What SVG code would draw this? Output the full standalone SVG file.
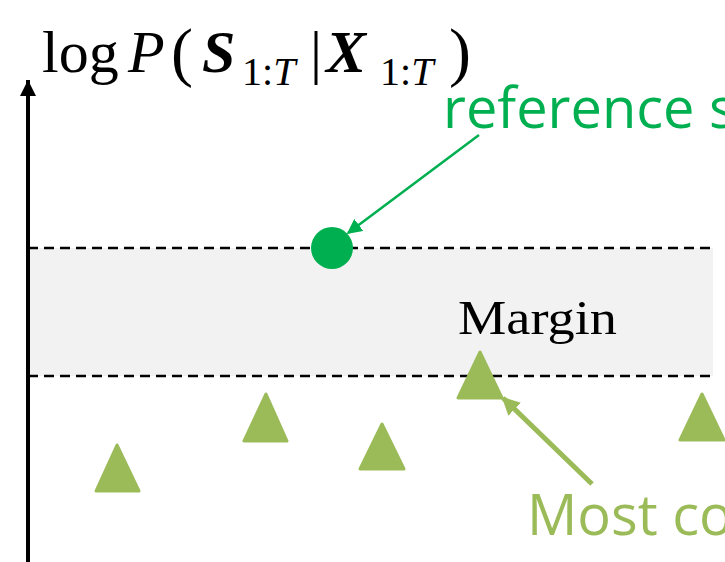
<svg xmlns="http://www.w3.org/2000/svg" width="725" height="562" viewBox="0 0 725 562">
<style>
.ser{font-family:"Liberation Serif","DejaVu Serif",serif;fill:#000}
.it{font-style:italic}
.bi{font-style:italic;font-weight:bold}
.dash{stroke:#000;stroke-width:2.5;stroke-dasharray:10 6;fill:none}
.tri{fill:#9bbb59;stroke:#9bbb59;stroke-width:3;stroke-linejoin:round}
.lbl{font-family:"Open Sans","Liberation Sans",sans-serif;font-size:56px}
</style>
<defs>
<marker id="ah" viewBox="0 0 10 10" refX="10" refY="5" markerWidth="4" markerHeight="4" orient="auto" markerUnits="strokeWidth"><path d="M0,0 L10,5 L0,10 z" fill="#000"/></marker>
<marker id="ahg" viewBox="0 0 10 10" refX="9" refY="5" markerWidth="6" markerHeight="6" orient="auto" markerUnits="strokeWidth"><path d="M0,0 L10,5 L0,10 z" fill="#00b050"/></marker>
<marker id="aho" viewBox="0 0 10 10" refX="9" refY="5" markerWidth="3.6" markerHeight="3.6" orient="auto" markerUnits="strokeWidth"><path d="M0,0 L10,5 L0,10 z" fill="#9bbb59"/></marker>
</defs>
<rect id="band" x="28" y="248" width="685" height="128" fill="#f2f2f2"/>
<g id="axis">
<line x1="28" y1="562" x2="28" y2="80" stroke="#000" stroke-width="4" marker-end="url(#ah)"/>
</g>
<g id="title">
<text class="ser" x="42" y="72" font-size="60">log</text>
<text class="ser it" x="128" y="72" font-size="60">P</text>
<text class="ser" x="171" y="74" font-size="66">(</text>
<text class="ser bi" x="202" y="72" font-size="60">S</text>
<text class="ser" x="242" y="85" font-size="40">1:<tspan class="it">T</tspan></text>
<text class="ser" x="310" y="72" font-size="60">|</text>
<text class="ser bi" x="326" y="72" font-size="60">X</text>
<text class="ser" x="380" y="85" font-size="40">1:<tspan class="it">T</tspan></text>
<text class="ser" x="449" y="74" font-size="66">)</text>
</g>
<g id="margin-lines">
<line class="dash" x1="28" y1="248" x2="713" y2="248"/>
<line class="dash" x1="28" y1="376" x2="713" y2="376"/>
</g>
<g id="margin-label"><text class="ser" x="458" y="334" font-size="48" textLength="159" lengthAdjust="spacingAndGlyphs">Margin</text></g>
<g id="reference">
<circle cx="332" cy="248" r="21" fill="#00b050"/>
</g>
<g id="reference-label"><text class="lbl" x="443" y="128" fill="#00b050">reference s</text></g>
<g id="candidates">
<polygon class="tri" points="117,445 96,491 139,491"/>
<polygon class="tri" points="266,394 244,441 287,441"/>
<polygon class="tri" points="382,424 360,469 404,469"/>
<polygon class="tri" points="480,352 458,398 502,398"/>
<polygon class="tri" points="702,394 680,440 724,440"/>
</g>
<g id="candidate-label"><text class="lbl" x="527" y="535" fill="#9bbb59">Most co</text></g>
<g id="connectors">
<line x1="479" y1="135" x2="348" y2="233" stroke="#00b050" stroke-width="2.5" marker-end="url(#ahg)"/>
<line x1="592" y1="484" x2="503" y2="398" stroke="#9bbb59" stroke-width="5" marker-end="url(#aho)"/>
</g>
</svg>
